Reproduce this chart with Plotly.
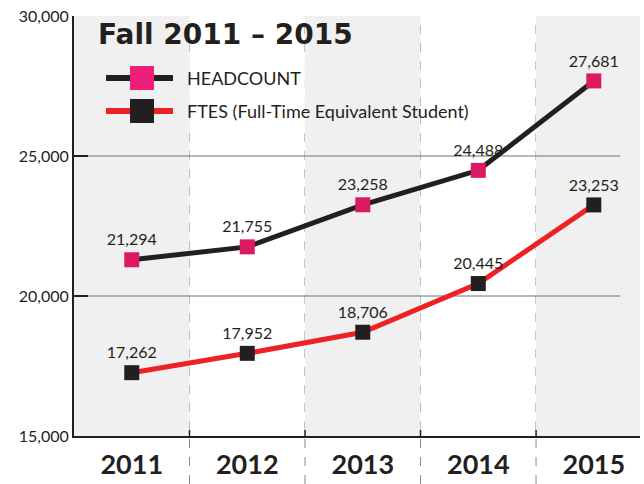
import plotly.graph_objects as go

years = ["2011", "2012", "2013", "2014", "2015"]
headcount = [21294, 21755, 23258, 24488, 27681]
ftes = [17262, 17952, 18706, 20445, 23253]
y_ticks = [15000, 20000, 25000, 30000]
y_ticklabels = ["15,000", "20,000", "25,000", "30,000"]

DARK = "#231f20"
PINK = "#dc1a64"
PINK_LEG = "#ee1e7b"
RED = "#ee2224"
BAND = "#eff0ef"
FONT = "Lato"

W, H = 644, 484
X0, X1, Y0, Y1 = 74, 640, 16, 436
L, R, T, B = X0, W - X1, Y0, H - Y1
PW, PH = X1 - X0, Y1 - Y0

def px(x):
    return (x - X0) / PW

def py(y):
    return (Y1 - y) / PH

xs = list(range(len(years)))

fig = go.Figure()
fig.add_trace(go.Scatter(
    x=xs, y=headcount, mode="lines+markers+text",
    line=dict(color=DARK, width=5),
    marker=dict(symbol="square", size=15, color=PINK),
    text=[f"{v:,}" for v in headcount], textposition="top center",
    textfont=dict(family=FONT, size=16, color=DARK),
    name="HEADCOUNT", showlegend=False, cliponaxis=False, hoverinfo="skip"))
fig.add_trace(go.Scatter(
    x=xs, y=ftes, mode="lines+markers+text",
    line=dict(color=RED, width=5),
    marker=dict(symbol="square", size=15, color=DARK),
    text=[f"{v:,}" for v in ftes], textposition="top center",
    textfont=dict(family=FONT, size=16, color=DARK),
    name="FTES (Full-Time Equivalent Student)", showlegend=False, cliponaxis=False,
    hoverinfo="skip"))

shapes = []
for i in range(0, len(years), 2):
    shapes.append(dict(type="rect", xref="x", yref="y", x0=i - 0.5, x1=i + 0.5,
                       y0=15000, y1=30000, fillcolor=BAND, line_width=0, layer="below"))
for i in range(len(years) - 1):
    shapes.append(dict(type="line", xref="x", yref="paper", x0=i + 0.5, x1=i + 0.5,
                       y0=py(484), y1=1, line=dict(color="#8a8a8a", width=1, dash="dash"),
                       layer="below"))
    shapes.append(dict(type="line", xref="x", yref="paper", x0=i + 0.5, x1=i + 0.5,
                       y0=0, y1=py(430), line=dict(color=DARK, width=1.5)))
for v in [20000, 25000]:
    shapes.append(dict(type="line", xref="x", yref="y", x0=-0.5, x1=(620 - 131.5) / 115.5,
                       y0=v, y1=v, line=dict(color="#707070", width=1), layer="below"))

shapes.append(dict(type="rect", xref="paper", yref="paper", x0=px(88), x1=px(420),
                   y0=py(133), y1=py(55), fillcolor="rgba(255,255,255,0.8)", line_width=0,
                   layer="below"))
leg = [("HEADCOUNT", DARK, PINK_LEG, 78), ("FTES (Full-Time Equivalent Student)", RED, DARK, 111)]
annotations = []
for name, lc, mc, yc in leg:
    shapes.append(dict(type="line", xref="paper", yref="paper", x0=px(106), x1=px(173),
                       y0=py(yc), y1=py(yc), line=dict(color=lc, width=6)))
    shapes.append(dict(type="rect", xref="paper", yref="paper", x0=px(130), x1=px(154),
                       y0=py(yc + 12), y1=py(yc - 12), fillcolor=mc, line_width=0))
    annotations.append(dict(xref="paper", yref="paper", x=px(185), y=py(yc), text=name,
                            showarrow=False, xanchor="left", yanchor="middle",
                            font=dict(family=FONT, size=18, color=DARK)))

annotations.append(dict(xref="paper", yref="paper", x=px(96), y=py(35), text="<b>Fall 2011 – 2015</b>",
                        showarrow=False, xanchor="left", yanchor="middle",
                        font=dict(family="DejaVu Sans", size=28, color=DARK)))

fig.update_layout(
    width=W, height=H, margin=dict(l=L, r=R, t=T, b=B, autoexpand=False),
    paper_bgcolor="white", plot_bgcolor="white",
    shapes=shapes, annotations=annotations, hovermode=False,
    xaxis=dict(range=[-0.5, 4.4], tickvals=xs, ticktext=years, showgrid=False, zeroline=False,
               showline=True, linecolor=DARK, linewidth=2, ticks="", automargin=False,
               ticklabelstandoff=4,
               tickfont=dict(family=FONT, size=27, color=DARK, weight="bold")),
    yaxis=dict(range=[15000, 30000], tickvals=y_ticks, ticktext=y_ticklabels, showgrid=False,
               zeroline=False, showline=True, linecolor=DARK, linewidth=2, automargin=False,
               ticks="inside", ticklen=14, tickwidth=2, tickcolor=DARK,
               ticklabeloverflow="allow",
               tickfont=dict(family=FONT, size=16, color=DARK)),
)

fig.write_html("out.html", config={"displayModeBar": False},
               post_script="document.body.style.margin='0';document.body.style.overflow='hidden';")
